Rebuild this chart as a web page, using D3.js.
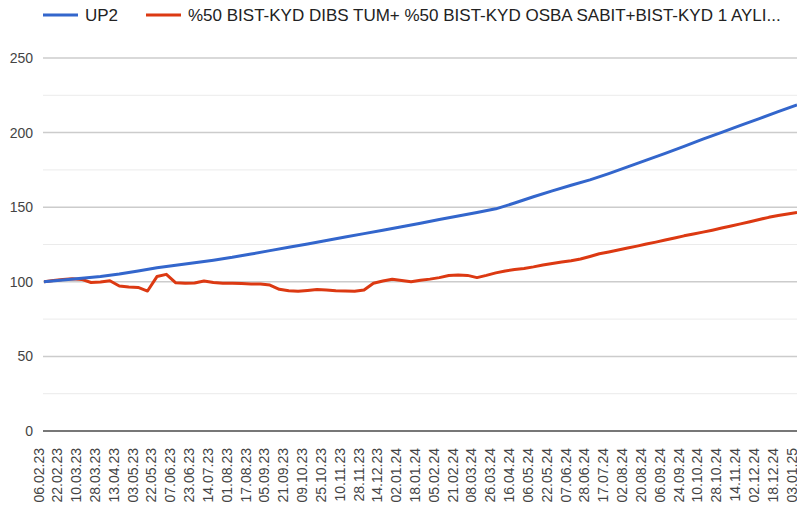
<!DOCTYPE html>
<html>
<head>
<meta charset="utf-8">
<script src="https://cdn.jsdelivr.net/npm/d3@7"></script>
<style>
  body { margin: 0; background: #fff; }
  svg { display: block; font-family: Arial, "Liberation Sans", sans-serif; }
</style>
</head>
<body>
<svg class="chart" width="797" height="505"></svg>
<script>
// x labels, one every 12 trading days
var dateLabels = ["06.02.23", "22.02.23", "10.03.23", "28.03.23", "13.04.23", "03.05.23", "22.05.23",
  "07.06.23", "23.06.23", "14.07.23", "01.08.23", "17.08.23", "05.09.23", "21.09.23", "09.10.23",
  "25.10.23", "10.11.23", "28.11.23", "14.12.23", "02.01.24", "18.01.24", "05.02.24", "21.02.24",
  "08.03.24", "26.03.24", "16.04.24", "06.05.24", "22.05.24", "07.06.24", "28.06.24", "17.07.24",
  "02.08.24", "20.08.24", "06.09.24", "24.09.24", "10.10.24", "28.10.24", "14.11.24", "02.12.24",
  "18.12.24", "03.01.25"];

var yTicks = [0, 50, 100, 150, 200, 250];
var yMinorTicks = [25, 75, 125, 175, 225];

var seriesNames = ["UP2", "%50 BIST-KYD DIBS TUM+ %50 BIST-KYD OSBA SABIT+BIST-KYD 1 AYLI..."];
var seriesColors = ["#3366cc", "#dc3912"];

// UP2, read at every labelled date
var up2Values = [100, 101.2, 102.4, 103.5, 105.2, 107.3, 109.4, 111.1, 112.8, 114.5,
  116.4, 118.6, 120.9, 123.1, 125.4, 127.7, 130, 132.3, 134.6, 136.9,
  139.3, 141.7, 144.1, 146.5, 148.9, 152.8, 157, 160.9, 164.7, 168.3,
  172.5, 177, 181.5, 186.1, 190.8, 195.6, 200.2, 204.8, 209.4, 214, 218.5];

// benchmark, read at every half step between labelled dates
var benchValues = [100, 100.8, 101.5, 102, 101.6, 99.5, 99.8, 100.7, 97.2, 96.5,
  96.2, 93.8, 103.5, 105, 99.3, 99, 99.2, 100.5, 99.6, 99,
  99, 98.8, 98.6, 98.5, 97.8, 95, 94, 93.6, 94.2, 94.8,
  94.5, 94, 93.8, 93.6, 94.5, 99, 100.5, 101.7, 100.8, 100,
  101, 101.8, 102.8, 104.2, 104.5, 104.3, 102.8, 104.3, 106, 107.3,
  108.2, 108.9, 110, 111.3, 112.3, 113.2, 114.1, 115.3, 117, 118.8,
  120, 121.3, 122.6, 123.9, 125.3, 126.6, 128, 129.4, 130.8, 132,
  133.3, 134.6, 136, 137.4, 138.8, 140.3, 141.8, 143.2, 144.4, 145.5, 146.4];

var svg = d3.select('.chart');
var plotLeft = 44, plotRight = 797, plotTop = 58, plotBottom = 431;

var x = d3.scaleLinear().domain([0, dateLabels.length - 1]).range([plotLeft, plotRight]);
var y = d3.scaleLinear().domain([0, 250]).range([plotBottom, plotTop]);

// gridlines
svg.append("g").selectAll("line")
  .data(yMinorTicks).enter().append("line")
  .attr("x1", plotLeft - 1).attr("x2", plotRight)
  .attr("y1", function(d) { return y(d); })
  .attr("y2", function(d) { return y(d); })
  .attr("stroke", "#ebebeb").attr("stroke-width", 1);

svg.append("g").selectAll("line")
  .data(yTicks.filter(function(d) { return d > 0; })).enter().append("line")
  .attr("x1", plotLeft - 1).attr("x2", plotRight)
  .attr("y1", function(d) { return y(d); })
  .attr("y2", function(d) { return y(d); })
  .attr("stroke", "#cccccc").attr("stroke-width", 1.5);

// y axis labels
var yAxis = d3.axisLeft(y).tickValues(yTicks).tickSize(0).tickPadding(10);
var yg = svg.append("g").attr("transform", "translate(" + (plotLeft - 1) + ",0)").call(yAxis);
yg.select(".domain").remove();
yg.selectAll("text").attr("font-size", 14).attr("fill", "#444").attr("font-family", "Arial, 'Liberation Sans', sans-serif");

// x axis labels, rotated
var xAxis = d3.axisBottom(x)
  .tickValues(d3.range(dateLabels.length))
  .tickFormat(function(i) { return dateLabels[i]; })
  .tickSize(0);
var xg = svg.append("g").attr("transform", "translate(0," + plotBottom + ")").call(xAxis);
xg.select(".domain").remove();
xg.selectAll("text")
  .attr("font-size", 14).attr("fill", "#444")
  .attr("font-family", "Arial, 'Liberation Sans', sans-serif")
  .attr("text-anchor", "end")
  .attr("dy", null).attr("y", 0)
  .attr("transform", "translate(-1,17) rotate(-90)");

// lines
var up2Line = d3.line()
  .x(function(d, i) { return x(i); })
  .y(function(d) { return y(d); });

var benchLine = d3.line()
  .x(function(d, i) { return x(i / 2); })
  .y(function(d) { return y(d); });

svg.append("path")
  .attr("d", benchLine(benchValues))
  .attr("fill", "none").attr("stroke", seriesColors[1])
  .attr("stroke-width", 3).attr("stroke-linejoin", "round");

svg.append("path")
  .attr("d", up2Line(up2Values))
  .attr("fill", "none").attr("stroke", seriesColors[0])
  .attr("stroke-width", 3).attr("stroke-linejoin", "round");

// baseline at zero
svg.append("line")
  .attr("x1", plotLeft - 1).attr("x2", plotRight)
  .attr("y1", y(0)).attr("y2", y(0))
  .attr("stroke", "#777").attr("stroke-width", 2);

// legend
var legendX = [43, 146];
var legend = svg.append("g").attr("class", "legend");
seriesNames.forEach(function(name, i) {
  legend.append("line")
    .attr("x1", legendX[i]).attr("x2", legendX[i] + 35)
    .attr("y1", 15).attr("y2", 15)
    .attr("stroke", seriesColors[i]).attr("stroke-width", 3);
  legend.append("text")
    .attr("x", legendX[i] + 42).attr("y", 21)
    .attr("font-size", 17).attr("fill", "#222")
    .text(name);
});
</script>
</body>
</html>
